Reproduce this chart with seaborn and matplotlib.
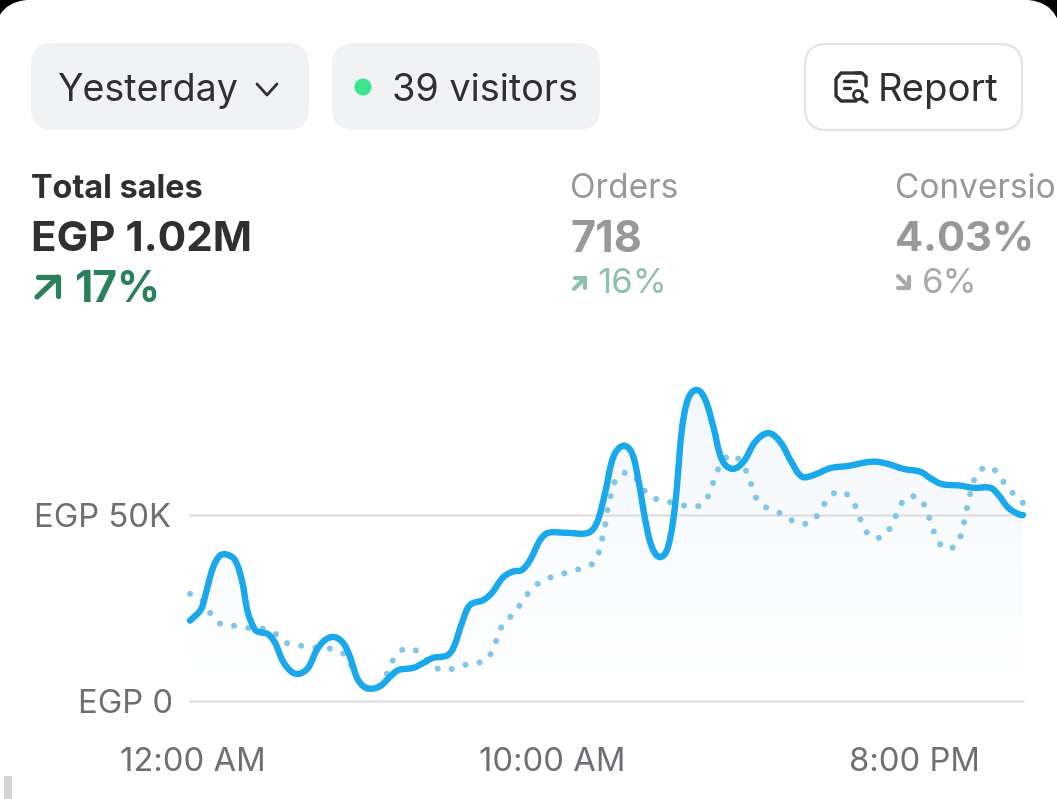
import numpy as np
import pandas as pd
import matplotlib
matplotlib.use('Agg')
import matplotlib.pyplot as plt
from matplotlib.patches import FancyBboxPatch, Circle, Rectangle, PathPatch
from matplotlib.path import Path
from matplotlib.transforms import ScaledTranslation
import seaborn as sns

# hours after midnight, sales in thousands of EGP
today_hours = [0.00, 0.30, 0.46, 0.64, 0.83, 1.01, 1.24, 1.43, 1.60, 1.80, 1.93, 2.15, 2.35, 2.57, 2.81,
               3.01, 3.26, 3.50, 3.73, 3.98, 4.23, 4.42, 4.60, 4.78, 4.99, 5.25, 5.52, 5.75, 6.16, 6.44,
               6.71, 7.09, 7.27, 7.51, 7.73, 8.09, 8.33, 8.65, 8.92, 9.16, 9.39, 9.67, 9.89, 10.41, 10.99,
               11.23, 11.46, 11.69, 11.96, 12.20, 12.38, 12.57, 12.75, 12.98, 13.20, 13.40, 13.58, 13.76,
               14.00, 14.23, 14.45, 14.69, 14.97, 15.28, 15.61, 15.97, 16.30, 16.62, 16.90, 17.21, 17.68,
               18.18, 18.69, 18.97, 19.28, 19.70, 20.17, 20.44, 20.76, 21.27, 21.63, 22.10, 22.32, 22.60,
               22.93, 23.00]
today_sales = [21.6, 24.6, 29.8, 36.0, 39.1, 39.4, 37.9, 32.5, 23.7, 19.1, 18.5, 18.0, 15.6, 10.6, 7.8,
               7.3, 8.9, 13.7, 16.4, 17.2, 15.6, 11.8, 6.5, 4.0, 3.3, 4.0, 6.5, 8.3, 8.9, 10.2,
               11.6, 12.2, 14.2, 21.0, 25.8, 27.1, 29.0, 33.3, 34.8, 35.2, 37.9, 43.3, 45.2, 45.2, 45.2,
               47.8, 55.9, 65.6, 68.6, 66.7, 59.4, 48.7, 41.5, 38.7, 41.5, 53.2, 72.8, 81.4,
               83.6, 80.9, 73.7, 64.8, 62.4, 64.3, 69.7, 72.0, 69.6, 64.0, 60.3, 60.7, 62.6,
               63.2, 64.2, 64.3, 63.7, 62.4, 61.6, 59.9, 58.3, 57.9, 57.3, 57.3, 55.4, 51.9,
               50.0, 50.0]

prev_hours = [0.00, 0.35, 0.57, 0.85, 1.24, 1.63, 2.04, 2.40, 2.71, 3.12, 3.51, 3.91, 4.25, 4.47, 4.64,
              4.83, 5.11, 5.30, 5.49, 5.66, 5.99, 6.35, 6.63, 6.99, 7.38, 7.76, 8.15, 8.37, 8.51, 8.67,
              8.98, 9.17, 9.48, 9.72, 10.08, 10.47, 10.85, 11.18, 11.32, 11.41, 11.49, 11.55, 11.66, 11.80,
              12.15, 12.45, 12.65, 13.03, 13.43, 13.80, 14.17, 14.36, 14.50, 14.66, 14.94, 15.24, 15.41,
              15.55, 15.72, 16.05, 16.41, 16.76, 17.15, 17.40, 17.62, 17.93, 18.26, 18.43, 18.58, 18.81,
              19.17, 19.39, 19.56, 19.77, 20.14, 20.33, 20.47, 20.61, 20.86, 21.18, 21.32, 21.41, 21.49,
              21.59, 21.73, 22.04, 22.35, 22.56, 22.85, 23.00]
prev_sales = [28.8, 26.9, 23.5, 20.7, 20.2, 19.6, 19.4, 17.8, 15.4, 14.8, 14.3, 14.0, 12.6, 9.2, 5.6,
              3.5, 3.0, 5.1, 8.3, 11.9, 14.2, 12.9, 9.9, 8.3, 9.0, 10.2, 10.8, 14.0, 17.7, 21.2,
              23.7, 26.9, 30.4, 32.3, 33.6, 34.7, 35.8, 37.4, 41.1, 45.0, 48.7, 52.7, 56.5, 60.2,
              61.3, 58.1, 55.4, 53.8, 53.2, 52.2, 53.0, 56.4, 60.2, 63.7, 66.2, 64.0, 60.5,
              56.7, 53.2, 51.4, 50.0, 47.8, 48.1, 51.1, 54.4, 56.4, 54.4, 50.9, 47.3, 44.1,
              44.4, 47.7, 51.3, 54.6, 54.6, 51.3, 47.6, 43.9, 40.9, 42.2, 46.0, 49.7, 53.6,
              57.3, 61.1, 63.0, 60.7, 57.3, 54.8, 53.2]

x_ticks = [0, 10, 20]
x_labels = ['12:00 AM', '10:00 AM', '8:00 PM']
y_ticks = [0, 50]
y_labels = ['EGP 0', 'EGP 50K']

BLUE = '#1aa8ec'
DOTS = '#82c6e7'
DARK = '#303033'
GREY = '#98989a'

sns.set_theme(style='white')
plt.rcParams['font.family'] = ['Inter', 'DejaVu Sans']

W, H = 1057, 799
fig = plt.figure(figsize=(W / 100, H / 100), dpi=100, facecolor='black')

# ------------------ card and header ------------------
ui = fig.add_axes([0, 0, 1, 1], zorder=0)
ui.set_xlim(0, W)
ui.set_ylim(H, 0)
ui.axis('off')


def pill(x0, y0, x1, y1, r, face, edge='none', lw=0):
    ui.add_patch(FancyBboxPatch((x0, y0), x1 - x0, y1 - y0, boxstyle=f'round,pad=0,rounding_size={r}',
                                fc=face, ec=edge, lw=lw))


def stroke(xs, ys, color, lw):
    ui.plot(xs, ys, color=color, lw=lw, solid_capstyle='round', solid_joinstyle='round')


pill(-6, -0.5, 1061, 900, 40, 'white')
pill(31, 43, 309, 130, 22, '#f1f2f4')
pill(332, 43, 600, 130, 22, '#f1f2f4')
pill(805, 44, 1022, 130, 22, 'white', '#e4e4e4', 1.6)
ui.add_patch(Rectangle((4, 776), 8, 30, fc='#d4d4d4', ec='none'))

ui.text(57, 91, 'Yesterday', fontsize=27.1, color=DARK, va='center')
stroke([257, 267, 277], [84, 95, 84], DARK, 2.0)
ui.add_patch(Circle((363, 87), 8.5, fc='#3be48f', ec='none'))
ui.text(392, 91, '39 visitors', fontsize=27.2, color=DARK, va='center')
ui.text(878, 91, 'Report', fontsize=27.6, color=DARK, va='center')

# report icon
stroke([860, 847, 841, 836, 836, 841, 856], [73, 73, 73, 79, 96, 101, 101], DARK, 2.4)
stroke([856, 862, 866, 866], [73, 73, 77, 86], DARK, 2.4)
stroke([844, 856], [81, 81], DARK, 2.4)
stroke([844, 850], [88, 88], DARK, 2.4)
ui.add_patch(Circle((858, 95), 4.5, fc='white', ec=DARK, lw=2.0))
stroke([862, 867], [99, 102], DARK, 2.4)

# metric blocks
ui.text(31, 189, 'Total sales', fontsize=23.3, color=DARK, va='center', fontweight='bold')
ui.text(31, 240, 'EGP 1.02M', fontsize=30.4, color=DARK, va='center', fontweight='bold')
ui.text(74, 290, '17%', fontsize=30.6, color='#2a8058', va='center', fontweight='bold')
stroke([37, 58], [297, 277], '#2a8058', 3.8)
stroke([38, 58, 58], [277, 277, 296], '#2a8058', 3.8)

ui.text(570, 189, 'Orders', fontsize=24, color=GREY, va='center')
ui.text(570, 240, '718', fontsize=31, color=GREY, va='center', fontweight='bold')
ui.text(597, 284, '16%', fontsize=25, color='#8fc0a8', va='center')
stroke([574, 585], [289, 278], '#8fc0a8', 3.0)
stroke([575, 585, 585], [278, 278, 288], '#8fc0a8', 3.0)

ui.text(895, 189, 'Conversio', fontsize=24, color=GREY, va='center')
ui.text(895, 240, '4.03%', fontsize=30, color=GREY, va='center', fontweight='bold')
ui.text(922, 284, '6%', fontsize=25, color='#a8a8a8', va='center')
stroke([898, 909], [276, 287], '#a8a8a8', 3.0)
stroke([898, 909, 909], [288, 288, 277], '#a8a8a8', 3.0)

# ------------------ chart ------------------
top_px = 380
ax = fig.add_axes([190 / W, 1 - 701 / H, (1023 - 190) / W, (701 - top_px) / H], zorder=1)
ax.patch.set_alpha(0)

today = pd.DataFrame({'hour': today_hours, 'sales': today_sales})
prev = pd.DataFrame({'hour': prev_hours, 'sales': prev_sales})

ax.set_xlim(0, 23)
ax.set_ylim(0, (701 - top_px) * 50 / 186)


def smooth_path(line):
    # same read-off points as the line, joined by bezier segments instead of straight ones
    pts = line.get_xydata()
    screen = pts * [36.2, 3.72]
    tang = np.gradient(screen, axis=0)
    tang = tang / np.maximum(np.linalg.norm(tang, axis=1, keepdims=True), 1e-6)
    verts = [pts[0]]
    codes = [Path.MOVETO]
    for i in range(len(pts) - 1):
        seg = np.linalg.norm(screen[i + 1] - screen[i]) / 3
        verts.append((screen[i] + tang[i] * seg) / [36.2, 3.72])
        verts.append((screen[i + 1] - tang[i + 1] * seg) / [36.2, 3.72])
        verts.append(pts[i + 1])
        codes += [Path.CURVE4, Path.CURVE4, Path.CURVE4]
    return Path(verts, codes)


# fill fades out towards the baseline
poly = ax.fill_between(today['hour'], today['sales'], 0, color='none', lw=0)
shade = np.zeros((256, 1, 4))
shade[..., 0:3] = (0.93, 0.96, 0.98)
shade[..., 3] = np.linspace(0.65, 0.0, 256)[:, None]
im = ax.imshow(shade, extent=(0, 23, 0, 84), aspect='auto', origin='upper', zorder=1)
im.set_clip_path(poly.get_paths()[0], transform=ax.transData)
ax.set_xlim(0, 23)
ax.set_ylim(0, (701 - top_px) * 50 / 186)

ax.set_yticks(y_ticks, y_labels)
ax.set_xticks(x_ticks, x_labels)
ax.grid(False)
for v in y_ticks:
    ax.axhline(v, color='#e2e2e4', lw=1.9, zorder=2, clip_on=False)

sns.lineplot(data=prev, x='hour', y='sales', ax=ax, sort=False, estimator=None, color=DOTS, lw=4.4)
sns.lineplot(data=today, x='hour', y='sales', ax=ax, sort=False, estimator=None, color=BLUE, lw=4.6)

prev_line, today_line = [l for l in ax.lines if len(l.get_xydata()) > 2]
prev_line.set_visible(False)
today_line.set_visible(False)
ax.add_patch(PathPatch(smooth_path(prev_line), fc='none', ec=DOTS, lw=4.4, linestyle=(0, (0.01, 2.35)),
                       capstyle='round', zorder=3, clip_on=False))
ax.add_patch(PathPatch(smooth_path(today_line), fc='none', ec=BLUE, lw=4.6, capstyle='round',
                       joinstyle='round', zorder=4, clip_on=False))

ax.set_xlabel('')
ax.set_ylabel('')
sns.despine(ax=ax, left=True, bottom=True)
ax.tick_params(axis='y', length=0, pad=14, labelsize=23.6, labelcolor='#6e6e73')
ax.tick_params(axis='x', length=0, pad=33, labelsize=23.6, labelcolor='#6e6e73')

# first labels sit a little to the right of their ticks
nudge = ScaledTranslation(2.5 / 100, 0, fig.dpi_scale_trans)
first_x = ax.get_xticklabels()[0]
first_x.set_transform(first_x.get_transform() + nudge)
first_y = ax.get_yticklabels()[0]
first_y.set_transform(first_y.get_transform() + nudge)

fig.savefig('out.png', dpi=100, facecolor=fig.get_facecolor())
plt.close(fig)
